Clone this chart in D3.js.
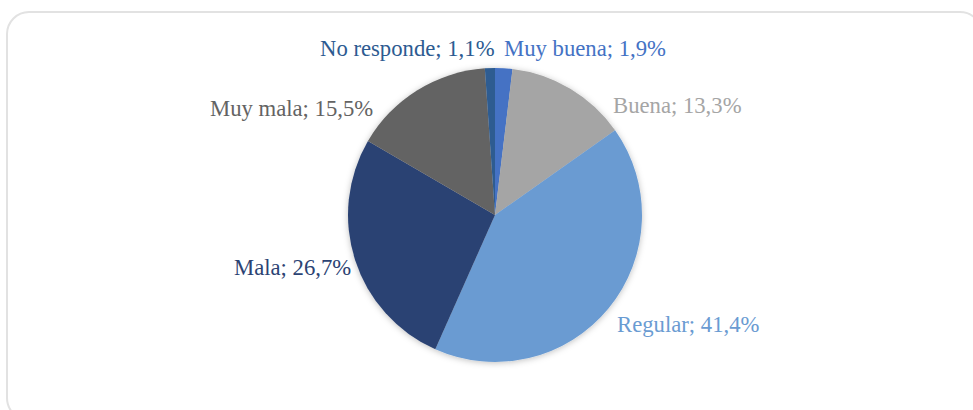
<!DOCTYPE html>
<html>
<head>
<meta charset="utf-8">
<script src="https://cdn.jsdelivr.net/npm/d3@7"></script>
<style>
  html, body { margin: 0; padding: 0; background: #ffffff; }
  svg { display: block; }
</style>
</head>
<body>
<svg id="chart" width="973" height="410"></svg>
<script>
// Data
const categories = ["Muy buena", "Buena", "Regular", "Mala", "Muy mala", "No responde"];
const values = [1.9, 13.3, 41.4, 26.7, 15.5, 1.1];
const labelTexts = ["Muy buena; 1,9%", "Buena; 13,3%", "Regular; 41,4%", "Mala; 26,7%", "Muy mala; 15,5%", "No responde; 1,1%"];

// Styles / layout
const colors = ["#4472C4", "#A5A5A5", "#6A9BD2", "#2C4373", "#636363", "#2D5B91"];
const labelOffsets = [[9, -159], [118, -102], [122, 117], [-261, 60], [-285, -99], [-175, -159]];

const width = 973, height = 410;
const cx = 495, cy = 215, r = 147;

const svg = d3.select("#chart");

const defs = svg.append("defs");
const f = defs.append("filter").attr("id", "sh").attr("x", "-20%").attr("y", "-20%").attr("width", "140%").attr("height", "140%");
f.append("feDropShadow").attr("dx", 0).attr("dy", 1).attr("stdDeviation", 3).attr("flood-color", "#000").attr("flood-opacity", 0.25);

// Frame
svg.append("rect")
  .attr("x", 7).attr("y", 12)
  .attr("width", 975).attr("height", 408)
  .attr("rx", 22).attr("ry", 22)
  .attr("fill", "none")
  .attr("stroke", "#e2e2e2")
  .attr("stroke-width", 2);

const pie = d3.pie().sort(null).value(d => d);
const arcs = pie(values);
const arc = d3.arc().innerRadius(0).outerRadius(r);

const g = svg.append("g").attr("transform", `translate(${cx},${cy})`);
g.append("g").attr("filter", "url(#sh)")
  .selectAll("path")
  .data(arcs)
  .join("path")
  .attr("d", arc)
  .attr("fill", (d, i) => colors[i]);

g.selectAll("text.lbl")
  .data(arcs)
  .join("text")
  .attr("class", "lbl")
  .attr("x", (d, i) => labelOffsets[i][0])
  .attr("y", (d, i) => labelOffsets[i][1])
  .attr("fill", (d, i) => colors[i])
  .attr("font-family", "'Liberation Serif', 'Times New Roman', serif")
  .attr("font-size", 22.7)
  .text((d, i) => labelTexts[i]);
</script>
</body>
</html>
